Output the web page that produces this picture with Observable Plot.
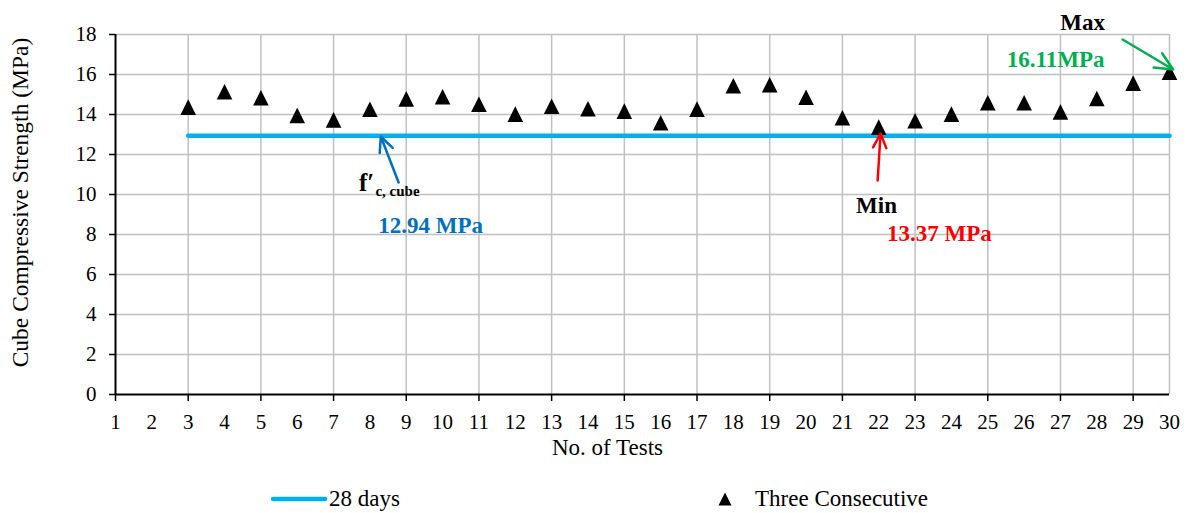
<!DOCTYPE html>
<html>
<head>
<meta charset="utf-8">
<script src="https://cdn.jsdelivr.net/npm/d3@7"></script>
<script src="https://cdn.jsdelivr.net/npm/@observablehq/plot@0.6"></script>
<style>
  html, body { margin: 0; padding: 0; background: #fff; }
  #wrap { width: 1189px; font-family: 'Liberation Serif', 'Times New Roman', serif; }
  #legend { position: relative; width: 1189px; height: 53px; font-size: 23px; color: #000; }
  #legend .item { position: absolute; display: flex; align-items: center; height: 30px; }
</style>
</head>
<body>
<div id="wrap">
  <div id="chart"></div>
  <div id="legend"></div>
</div>
<script>
// ---- data ----
const tests = [3, 4, 5, 6, 7, 8, 9, 10, 11, 12, 13, 14, 15, 16, 17, 18, 19, 20, 21, 22, 23, 24, 25, 26, 27, 28, 29, 30];
const strength = [14.37, 15.14, 14.84, 13.95, 13.73, 14.26, 14.78, 14.89, 14.51, 14.02, 14.41, 14.29, 14.17, 13.59, 14.27, 15.44, 15.49, 14.86, 13.84, 13.37, 13.69, 14.02, 14.59, 14.59, 14.13, 14.80, 15.57, 16.11];
const fcValue = 12.94;
const fcRange = [3, 30];
const xTickLabels = [1, 2, 3, 4, 5, 6, 7, 8, 9, 10, 11, 12, 13, 14, 15, 16, 17, 18, 19, 20, 21, 22, 23, 24, 25, 26, 27, 28, 29, 30];
const xTickMarks = [1, 3, 5, 7, 9, 11, 13, 15, 17, 19, 21, 23, 25, 27, 29];
const xGrid = [3, 5, 7, 9, 11, 13, 15, 17, 19, 21, 23, 25, 27, 29, 30];
const yTicks = [0, 2, 4, 6, 8, 10, 12, 14, 16, 18];
const seriesNames = ["28 days", "Three Consecutive"];
const xTitle = "No. of Tests";
const yTitle = "Cube Compressive Strength (MPa)";

// annotations (data coordinates)
const annotationArrows = [
  {x1: 8.79, y1: 10.6, x2: 8.30, y2: 12.9, color: "#0070c0"},
  {x1: 21.97, y1: 10.7, x2: 22.05, y2: 13.05, color: "#ff0000"},
  {x1: 28.71, y1: 17.75, x2: 30.1, y2: 16.25, color: "#00b050"}
];
const annotationLabels = [
  {x: 27.61, y: 18.6, text: "Max", color: "#000000", size: 23},
  {x: 26.87, y: 16.75, text: "16.11MPa", color: "#00b050", size: 23},
  {x: 21.94, y: 9.45, text: "Min", color: "#000000", size: 23},
  {x: 23.67, y: 8.05, text: "13.37 MPa", color: "#ff0000", size: 23},
  {x: 9.67, y: 8.45, text: "12.94 MPa", color: "#0070c0", size: 23},
  {x: 7.91, y: 10.6, text: "f\u2032", color: "#000000", size: 25},
  {x: 8.76, y: 10.15, text: "c, cube", color: "#000000", size: 15}
];

// Excel-like triangle marker (bbox centred, equal width/height)
const tri = {
  draw(ctx, size) {
    const r = Math.sqrt(size / Math.PI);
    ctx.moveTo(0, -r);
    ctx.lineTo(r, r);
    ctx.lineTo(-r, r);
    ctx.closePath();
  }
};

const points = tests.map((t, i) => ({test: t, value: strength[i]}));
const fcLine = fcRange.map(t => ({test: t, value: fcValue}));
const grey = "#c0c0c0";

const chart = Plot.plot({
  width: 1189,
  height: 460,
  marginLeft: 115,
  marginRight: 20,
  marginTop: 34,
  marginBottom: 66,
  x: {domain: [1, 30], label: null},
  y: {domain: [0, 18], label: null},
  style: {fontFamily: "'Liberation Serif', 'Times New Roman', serif", fontSize: "21px", color: "#000", background: "#fff", overflow: "visible"},
  marks: [
    Plot.gridY(yTicks.filter(d => d > 0), {stroke: grey, strokeOpacity: 1, strokeWidth: 1.5}),
    Plot.gridX(xGrid, {stroke: grey, strokeOpacity: 1, strokeWidth: 1.5}),
    Plot.axisY(yTicks, {tickSize: 6, tickPadding: 13, strokeWidth: 1.5, fontSize: 21, label: null}),
    Plot.axisX(xTickMarks, {tickSize: 7, strokeWidth: 1.5, tickFormat: () => "", label: null}),
    Plot.axisX(xTickLabels, {tickSize: 0, tickPadding: 20, fontSize: 21, label: null}),
    Plot.ruleY([0], {stroke: "#000", strokeWidth: 2}),
    Plot.ruleX([1], {stroke: "#000", strokeWidth: 2}),
    Plot.line(fcLine, {x: "test", y: "value", stroke: "#00b0f0", strokeWidth: 4.5, strokeLinecap: "round"}),
    Plot.dot(points, {x: "test", y: "value", symbol: tri, r: 7.8, fill: "#000", stroke: null}),
    Plot.arrow(annotationArrows, {x1: "x1", y1: "y1", x2: "x2", y2: "y2", stroke: "color", strokeWidth: 2.5, headLength: 13, headAngle: 50}),
    Plot.text(annotationLabels, {x: "x", y: "y", text: "text", fill: "color", fontSize: "size", fontWeight: "bold", lineAnchor: "middle", textAnchor: "middle"}),
    Plot.text([xTitle], {text: d => d, frameAnchor: "bottom", dx: -35, dy: 53, fontSize: 23, lineAnchor: "middle"}),
    Plot.text([yTitle], {text: d => d, frameAnchor: "left", rotate: -90, dx: -95, dy: -12, fontSize: 23.5, lineAnchor: "middle", textAnchor: "middle"})
  ]
});
document.getElementById("chart").appendChild(chart);

// legend
const legend = document.getElementById("legend");
legend.innerHTML = `
  <div class="item" style="left:270px; top:24px;">
    <svg width="58" height="8"><line x1="3" y1="4" x2="55" y2="4" stroke="#00b0f0" stroke-width="4.5" stroke-linecap="round"/></svg>
    <span style="margin-left:1px">${seriesNames[0]}</span>
  </div>
  <div class="item" style="left:717px; top:24px;">
    <svg width="16" height="16"><path d="M8,1.5L14.5,14.5L1.5,14.5Z" fill="#000"/></svg>
    <span style="margin-left:22px">${seriesNames[1]}</span>
  </div>`;
</script>
</body>
</html>
